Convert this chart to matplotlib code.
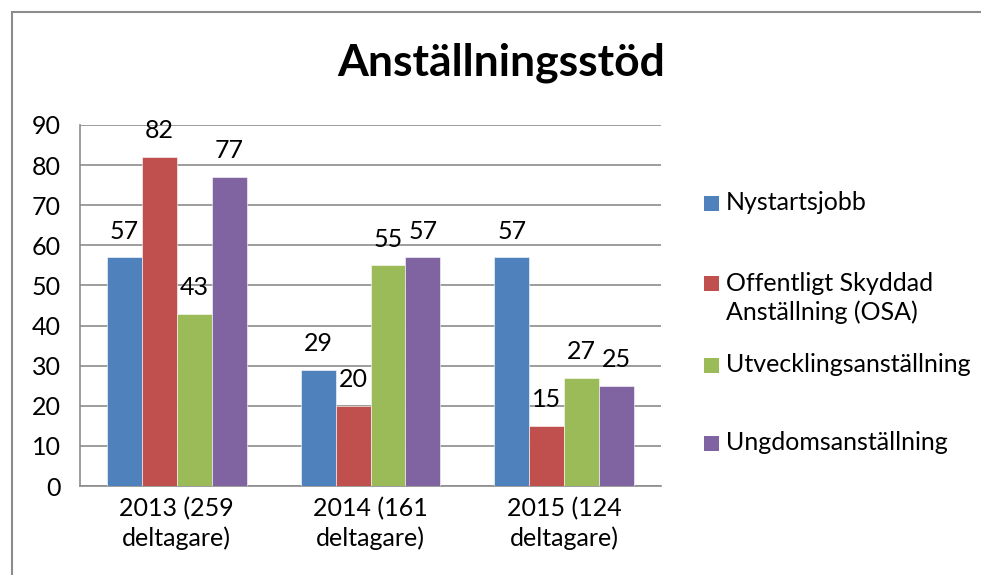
import matplotlib
matplotlib.use("Agg")
import matplotlib.pyplot as plt
import numpy as np
from matplotlib.patches import Rectangle

categories = ["2013 (259\ndeltagare)", "2014 (161\ndeltagare)", "2015 (124\ndeltagare)"]
series_names = ["Nystartsjobb", "Offentligt Skyddad\nAnställning (OSA)",
                "Utvecklingsanställning", "Ungdomsanställning"]
nystartsjobb = [57, 29, 57]
osa = [82, 20, 15]
utveckling = [43, 55, 27]
ungdom = [77, 57, 25]
title = "Anställningsstöd"

values = [nystartsjobb, osa, utveckling, ungdom]
colors = ["#4F81BD", "#C0504D", "#9BBB59", "#8064A2"]

plt.rcParams['font.family'] = ['Lato', 'DejaVu Sans']
W, H = 981, 575
fig = plt.figure(figsize=(W / 100, H / 100), dpi=100)
ax = fig.add_axes([80 / W, 1 - 486 / H, (661 - 80) / W, (486 - 125) / H])

FS = 18
x = np.arange(len(categories))
bw = 0.18
grid_c = "#8C8C8C"
for i, (vals, c) in enumerate(zip(values, colors)):
    pos = x + (i - 1.5) * bw
    ax.bar(pos, vals, width=bw, color=c, edgecolor="white", linewidth=0.4, zorder=3)
    for p, v in zip(pos, vals):
        ax.annotate(str(v), (p, v), xytext=(0, 13.5), textcoords="offset points",
                    ha="center", va="baseline", fontsize=FS, color="black", zorder=4)

ax.set_xlim(-0.5, 2.5)
ax.set_ylim(0, 90)
ax.set_yticks(range(0, 91, 10))
ax.set_xticks(x)
ax.set_xticklabels(categories, fontsize=FS, linespacing=1.3)
ax.tick_params(axis='y', labelsize=FS, length=0, pad=14)
ax.tick_params(axis='x', length=0, pad=8)
ax.yaxis.grid(True, color=grid_c, linewidth=1.2, zorder=0)
ax.set_axisbelow(True)
for s in ["top", "right"]:
    ax.spines[s].set_visible(False)
for s in ["left", "bottom"]:
    ax.spines[s].set_color(grid_c)
    ax.spines[s].set_linewidth(1.2)

fig.text(501 / W, 1 - 63 / H, title, ha="center", va="center",
         fontsize=32, fontweight="bold", color="black")

# legend drawn manually
leg_y = [203, 284, 365, 443]
for name, c, yy in zip(series_names, colors, leg_y):
    yf = 1 - yy / H
    fig.patches.append(Rectangle((704 / W, yf - 7.5 / H), 15 / W, 15 / H,
                                 transform=fig.transFigure, facecolor=c,
                                 edgecolor="none"))
    fig.text(726 / W, yf + 12 / H, name, ha="left", va="top", fontsize=FS,
             linespacing=1.3, color="black")

# outer chart border
fig.patches.append(Rectangle((11.5 / W, -0.1), 1.2, 1 - 12 / H + 0.1,
                             transform=fig.transFigure, facecolor="none",
                             edgecolor="#8C8C8C", linewidth=1.5, clip_on=False))

fig.savefig("out.png", dpi=100)
